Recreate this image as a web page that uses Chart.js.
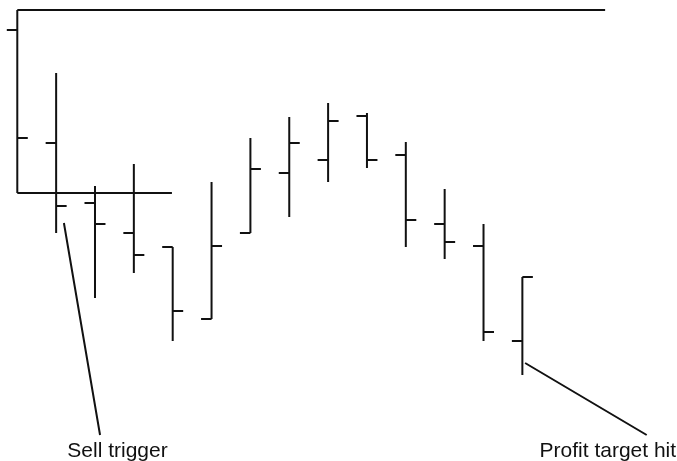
<!DOCTYPE html>
<html lang="en">

<head>
    <meta charset="UTF-8" />
    <title>Sell trigger / Profit target</title>
    <script src="https://cdn.jsdelivr.net/npm/chart.js@4.4.0/dist/chart.umd.min.js"></script>
    <style>
        html, body { margin: 0; padding: 0; background: #fff; }
        canvas { display: block; }
    </style>
</head>

<body>
    <canvas id="myChart" width="677" height="461"></canvas>
</body>
<script>
// OHLC bars (arbitrary price units)
var abiertos = [431, 318, 258, 228, 214, 142, 228, 288, 301, 345, 306, 237, 215, 120];
var altos    = [451, 388, 275, 297, 214, 279, 323, 344, 358, 348, 319, 272, 237, 184];
var bajos    = [268, 228, 163, 188, 120, 142, 228, 244, 279, 293, 214, 202, 120, 86];
var cierres  = [323, 255, 237, 206, 150, 215, 292, 318, 340, 301, 241, 219, 129, 184];

// range box drawn from the first bar: high runs far right, low runs to bar 5
var techoFin = 15.13;
var pisoFin = 3.98;

// pointer lines for the two notes
var notas = ['Sell trigger', 'Profit target hit'];
var flechaX = [[1.2, 2.13], [13.07, 16.2]];
var flechaY = [[238, 26], [98, 26]];
var notaX = [2.58, 15.2];
var notaY = 4;

var tick = 0.27;
var negro = '#111';

var barras = [];
for (var i = 0; i < altos.length; i++) {
    barras.push({ x: i, y: bajos[i] }, { x: i, y: altos[i] }, { x: i, y: null });
    barras.push({ x: i - tick, y: abiertos[i] }, { x: i, y: abiertos[i] }, { x: i, y: null });
    barras.push({ x: i, y: cierres[i] }, { x: i + tick, y: cierres[i] }, { x: i, y: null });
}

var caja = [
    { x: 0, y: altos[0] }, { x: techoFin, y: altos[0] }, { x: 0, y: null },
    { x: 0, y: bajos[0] }, { x: pisoFin, y: bajos[0] }, { x: 0, y: null }
];

var flechas = [];
for (var j = 0; j < notas.length; j++) {
    flechas.push({ x: flechaX[j][0], y: flechaY[j][0] }, { x: flechaX[j][1], y: flechaY[j][1] }, { x: 0, y: null });
}

function serie(datos, grosor) {
    return {
        type: 'scatter',
        data: datos,
        showLine: true,
        spanGaps: false,
        borderColor: negro,
        borderWidth: grosor,
        borderCapStyle: 'butt',
        pointRadius: 0,
        pointHoverRadius: 0,
        tension: 0
    };
}

var textos = {
    id: 'textos',
    afterDatasetsDraw: function (chart) {
        var ctx = chart.ctx;
        var sx = chart.scales.x, sy = chart.scales.y;
        ctx.save();
        ctx.fillStyle = negro;
        ctx.font = '21px "Liberation Sans", Arial, sans-serif';
        ctx.textAlign = 'center';
        ctx.textBaseline = 'alphabetic';
        for (var k = 0; k < notas.length; k++) {
            ctx.fillText(notas[k], sx.getPixelForValue(notaX[k]), sy.getPixelForValue(notaY));
        }
        ctx.restore();
    }
};

var ctx = document.getElementById('myChart').getContext('2d');
var myChart = new Chart(ctx, {
    type: 'scatter',
    data: {
        datasets: [serie(caja, 2), serie(barras, 2), serie(flechas, 2)]
    },
    options: {
        responsive: false,
        animation: false,
        devicePixelRatio: 1,
        layout: { padding: 0 },
        plugins: {
            legend: { display: false },
            tooltip: { enabled: false }
        },
        scales: {
            x: { type: 'linear', min: -0.445, max: 16.98, display: false },
            y: { type: 'linear', min: 0, max: 461, display: false }
        }
    },
    plugins: [textos]
});
</script>

</html>
